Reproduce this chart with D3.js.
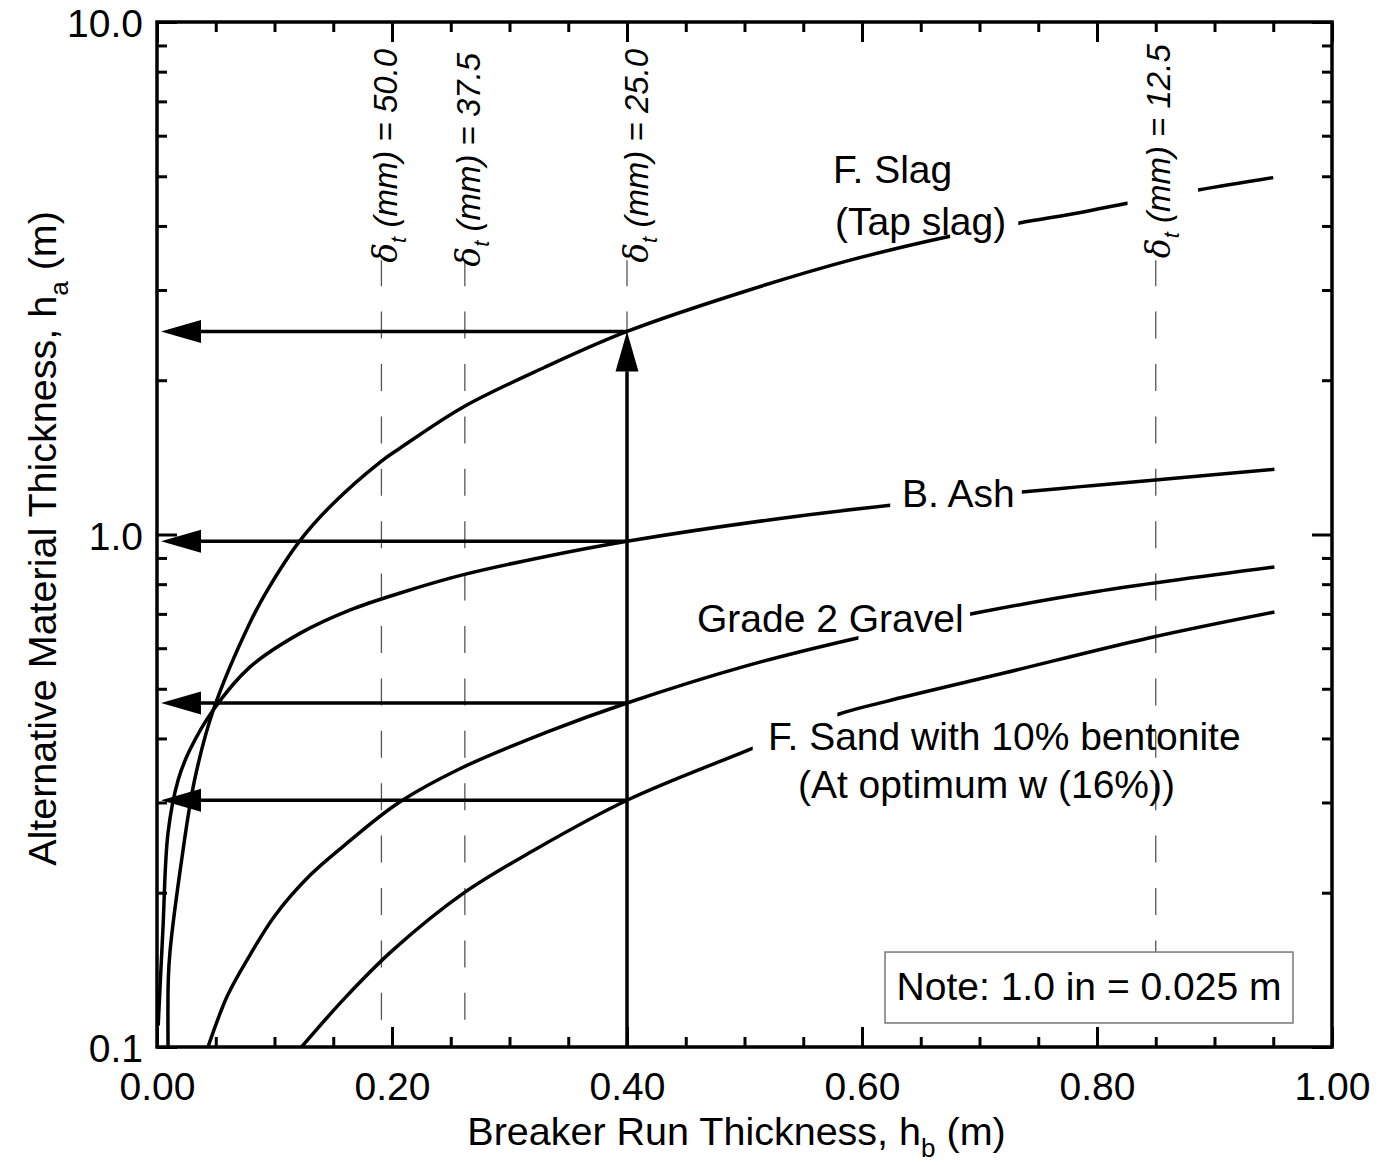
<!DOCTYPE html>
<html><head><meta charset="utf-8">
<script src="https://cdn.jsdelivr.net/npm/d3@7"></script>
<style>
body{margin:0;background:#fff}
svg text{font-family:"Liberation Sans",Arial,Helvetica,sans-serif;fill:#000}
</style>
</head><body>
<svg id="chart" width="1379" height="1165"></svg>
<script>
// ---------------- DATA ----------------
const slagX = [0.0094, 0.0096, 0.011, 0.021, 0.032, 0.048, 0.079, 0.094, 0.122, 0.150, 0.19, 0.207, 0.26, 0.33, 0.40, 0.50, 0.59, 0.675, 0.733, 0.786, 0.826, 0.886, 0.95];
const slagY = [0.1, 0.135, 0.153, 0.232, 0.332, 0.455, 0.672, 0.779, 0.975, 1.15, 1.385, 1.475, 1.77, 2.12, 2.49, 2.98, 3.43, 3.82, 4.05, 4.25, 4.43, 4.70, 4.97];

const ashX = [0.001, 0.005, 0.0094, 0.018, 0.028, 0.048, 0.079, 0.122, 0.164, 0.207, 0.26, 0.33, 0.40, 0.524, 0.624, 0.736, 0.786, 0.845, 0.951];
const ashY = [0.110, 0.169, 0.262, 0.332, 0.38, 0.455, 0.551, 0.642, 0.712, 0.769, 0.834, 0.905, 0.97, 1.07, 1.14, 1.21, 1.24, 1.275, 1.34];

const gravelX = [0.0434, 0.06, 0.079, 0.10, 0.13, 0.16, 0.205, 0.26, 0.33, 0.40, 0.50, 0.60, 0.70, 0.80, 0.951];
const gravelY = [0.1, 0.126, 0.151, 0.180, 0.216, 0.248, 0.299, 0.351, 0.410, 0.469, 0.553, 0.631, 0.705, 0.774, 0.864];

const sandX = [0.123, 0.16, 0.20, 0.26, 0.32, 0.40, 0.50, 0.58, 0.62, 0.72, 0.845, 0.951];
const sandY = [0.1, 0.1247, 0.154, 0.199, 0.2415, 0.303, 0.377, 0.446, 0.472, 0.536, 0.629, 0.706];

// label gaps in each curve (x ranges where the curve is interrupted by its label)
const slagGaps = [[0.675, 0.733], [0.826, 0.886]];
const ashGaps = [[0.624, 0.736]];
const gravelGaps = [[0.597, 0.692]];
const sandGaps = [[0.507, 0.579]];

const deltaX = [0.191, 0.262, 0.40, 0.85];
const deltaValues = ["50.0", "37.5", "25.0", "12.5"];

const readX = 0.40; // design breaker-run thickness used for the arrows

const xTickValues = [0, 0.2, 0.4, 0.6, 0.8, 1.0];
const xTickLabels = ["0.00", "0.20", "0.40", "0.60", "0.80", "1.00"];
const yTickValues = [0.1, 1, 10];
const yTickLabels = ["0.1", "1.0", "10.0"];

// ---------------- LAYOUT ----------------
const W = 1379, H = 1165;
const L = 157, R = 1332, T = 22, B = 1047;
const FS = 39;

const svg = d3.select("#chart");
const x = d3.scaleLinear().domain([0, 1]).range([L, R]);
const y = d3.scaleLog().domain([0.1, 10]).range([B, T]);

const defs = svg.append("defs");
defs.append("clipPath").attr("id", "plotclip").append("rect")
  .attr("x", L).attr("y", T).attr("width", R - L).attr("height", B - T);

// ---------------- DASHED δt LINES ----------------
const dashTop = 3.43, dashBottom = 0.113;
svg.append("g").selectAll("line").data(deltaX).join("line")
  .attr("x1", d => x(d)).attr("x2", d => x(d))
  .attr("y1", y(dashBottom)).attr("y2", y(dashTop))
  .attr("stroke", "#555").attr("stroke-width", 1.3)
  .attr("stroke-dasharray", "27,25.4");

const deltaLabelPos = [[0.2043, 3.39], [0.2749, 3.33], [0.4179, 3.39], [0.8621, 3.46]];
deltaValues.forEach((v, i) => {
  const t = svg.append("text")
    .attr("transform", `translate(${x(deltaLabelPos[i][0])},${y(deltaLabelPos[i][1])}) rotate(-90)`)
    .attr("font-size", 33).attr("font-style", "italic");
  t.append("tspan").text("δ").attr("font-family", "'DejaVu Serif',serif");
  t.append("tspan").text("t").attr("font-size", 22).attr("dy", 9);
  t.append("tspan").text(" (mm) = " + v).attr("dy", -9);
});

// ---------------- CURVES ----------------
const series = [
  {name: "F. Slag", xs: slagX, ys: slagY, gaps: slagGaps},
  {name: "B. Ash", xs: ashX, ys: ashY, gaps: ashGaps},
  {name: "Grade 2 Gravel", xs: gravelX, ys: gravelY, gaps: gravelGaps},
  {name: "F. Sand with 10% bentonite", xs: sandX, ys: sandY, gaps: sandGaps}
];
const line = d3.line().x(d => x(d[0])).y(d => y(d[1])).curve(d3.curveCatmullRom.alpha(0.5));

const curveG = svg.append("g").attr("clip-path", "url(#plotclip)");
series.forEach((s, i) => {
  const cp = defs.append("clipPath").attr("id", "gap" + i);
  let start = 0;
  const edges = [];
  s.gaps.forEach(g => { edges.push([start, g[0]]); start = g[1]; });
  edges.push([start, 1.05]);
  edges.forEach(e => cp.append("rect")
    .attr("x", x(e[0]) - (e[0] === 0 ? 5 : 0)).attr("y", 0)
    .attr("width", x(e[1]) - x(e[0]) + (e[0] === 0 ? 5 : 0)).attr("height", H));
  curveG.append("path")
    .datum(s.xs.map((v, j) => [v, s.ys[j]]))
    .attr("d", line)
    .attr("clip-path", `url(#gap${i})`)
    .attr("fill", "none").attr("stroke", "#000").attr("stroke-width", 3.5)
    .attr("stroke-linejoin", "round");
});

// ---------------- ARROWS ----------------
const readVals = series.map(s => s.ys[s.xs.indexOf(readX)]);
const arrowG = svg.append("g");
const headLen = 40, headHalf = 11.5;
readVals.forEach(v => {
  const yy = y(v);
  arrowG.append("line").attr("x1", x(readX)).attr("x2", x(0) + headLen)
    .attr("y1", yy).attr("y2", yy).attr("stroke", "#000").attr("stroke-width", 3.5);
  const tip = x(0) + 4;
  arrowG.append("path")
    .attr("d", `M${tip},${yy} L${tip + headLen},${yy - headHalf} L${tip + headLen},${yy + headHalf} Z`)
    .attr("fill", "#000");
});
{
  const top = y(readVals[0]);
  const xx = x(readX);
  arrowG.append("line").attr("x1", xx).attr("x2", xx).attr("y1", y(0.1)).attr("y2", top + headLen)
    .attr("stroke", "#000").attr("stroke-width", 3.5);
  arrowG.append("path")
    .attr("d", `M${xx},${top} L${xx - headHalf},${top + headLen} L${xx + headHalf},${top + headLen} Z`)
    .attr("fill", "#000");
}

// ---------------- CURVE LABELS ----------------
const curveLabels = [
  ["F. Slag", 0.5753, 4.85],
  ["(Tap slag)", 0.577, 3.84],
  ["B. Ash", 0.634, 1.131],
  ["Grade 2 Gravel", 0.4596, 0.645],
  ["F. Sand with 10% bentonite", 0.520, 0.380],
  ["(At optimum w (16%))", 0.5455, 0.306]
];
svg.append("g").selectAll("text").data(curveLabels).join("text")
  .attr("x", d => x(d[1])).attr("y", d => y(d[2]))
  .attr("font-size", FS).text(d => d[0]);

// ---------------- NOTE BOX ----------------
const noteBox = {x0: 0.6196, x1: 0.9668, yTop: 0.1532, yBot: 0.1114, yText: 0.1235};
svg.append("rect")
  .attr("x", x(noteBox.x0)).attr("y", y(noteBox.yTop))
  .attr("width", x(noteBox.x1) - x(noteBox.x0)).attr("height", y(noteBox.yBot) - y(noteBox.yTop))
  .attr("fill", "#fff").attr("stroke", "#777").attr("stroke-width", 1.5);
svg.append("text")
  .attr("x", (x(noteBox.x0) + x(noteBox.x1)) / 2).attr("y", y(noteBox.yText))
  .attr("text-anchor", "middle").attr("font-size", FS)
  .text("Note: 1.0 in = 0.025 m");

// ---------------- AXES ----------------
const xMinor = d3.range(0, 1.0001, 0.05).filter(v => xTickValues.every(t => Math.abs(t - v) > 1e-6));
const yMinor = [];
[0.1, 1].forEach(dec => { for (let k = 2; k <= 9; k++) yMinor.push(dec * k); });

function styleAxis(g) {
  g.select(".domain").remove();
  g.selectAll(".tick line").attr("stroke", "#000").attr("stroke-width", 3);
  g.selectAll("text").attr("font-size", FS).attr("font-family", null).attr("fill", "#000");
}

svg.append("g").attr("transform", `translate(0,${B})`)
  .call(d3.axisBottom(x).tickValues(xTickValues).tickSize(-20).tickPadding(25)
    .tickFormat((d, i) => xTickLabels[i]))
  .call(styleAxis);
svg.append("g").attr("transform", `translate(0,${B})`)
  .call(d3.axisBottom(x).tickValues(xMinor).tickSize(-10).tickFormat(""))
  .call(styleAxis);
svg.append("g").attr("transform", `translate(0,${T})`)
  .call(d3.axisTop(x).tickValues(xTickValues).tickSize(-20).tickFormat(""))
  .call(styleAxis);
svg.append("g").attr("transform", `translate(0,${T})`)
  .call(d3.axisTop(x).tickValues(xMinor).tickSize(-10).tickFormat(""))
  .call(styleAxis);
svg.append("g").attr("transform", `translate(${L},0)`)
  .call(d3.axisLeft(y).tickValues(yTickValues).tickSize(-20).tickPadding(14)
    .tickFormat((d, i) => yTickLabels[i]))
  .call(styleAxis)
  .call(g => g.selectAll("text").attr("dy", "0.38em"));
svg.append("g").attr("transform", `translate(${L},0)`)
  .call(d3.axisLeft(y).tickValues(yMinor).tickSize(-10).tickFormat(""))
  .call(styleAxis);
svg.append("g").attr("transform", `translate(${R},0)`)
  .call(d3.axisRight(y).tickValues(yTickValues).tickSize(-20).tickFormat(""))
  .call(styleAxis);
svg.append("g").attr("transform", `translate(${R},0)`)
  .call(d3.axisRight(y).tickValues(yMinor).tickSize(-10).tickFormat(""))
  .call(styleAxis);

svg.append("rect").attr("x", L).attr("y", T).attr("width", R - L).attr("height", B - T)
  .attr("fill", "none").attr("stroke", "#000").attr("stroke-width", 3.5);

// ---------------- AXIS TITLES ----------------
{
  const t = svg.append("text").attr("x", (L + R) / 2 - 8).attr("y", 1145)
    .attr("text-anchor", "middle").attr("font-size", 39.5);
  t.append("tspan").text("Breaker Run Thickness, h");
  t.append("tspan").text("b").attr("font-size", 26).attr("dy", 12);
  t.append("tspan").text(" (m)").attr("dy", -12);
}
{
  const t = svg.append("text")
    .attr("transform", `translate(56,${(T + B) / 2 + 4}) rotate(-90)`)
    .attr("text-anchor", "middle").attr("font-size", 39.5);
  t.append("tspan").text("Alternative Material Thickness, h");
  t.append("tspan").text("a").attr("font-size", 26).attr("dy", 12);
  t.append("tspan").text(" (m)").attr("dy", -12);
}
</script>
</body></html>
